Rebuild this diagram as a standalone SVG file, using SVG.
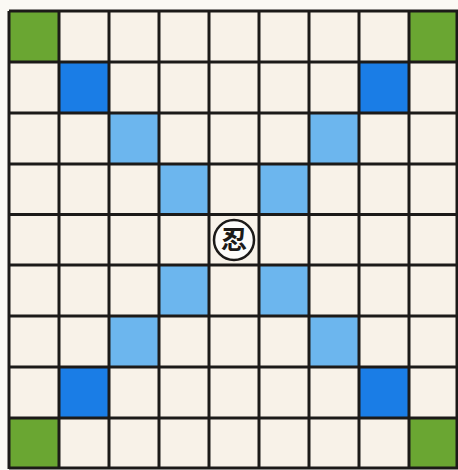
<svg xmlns="http://www.w3.org/2000/svg" width="458" height="470" viewBox="0 0 458 470">
<style>
.c{fill:#f8f2e8}
.g{fill:#6aa632}
.d{fill:#1a7de6}
.l{fill:#6cb6ee}
.ln{stroke:#1c1a18;stroke-width:3;fill:none}
.k{font-family:"Noto Sans CJK JP","Noto Sans CJK SC",sans-serif;font-size:26px;font-weight:bold;fill:#1c1a18;text-anchor:middle}
</style>
<rect x="0" y="0" width="458" height="470" fill="#fbf9f4"/>
<g id="board">
<rect x="9" y="11" width="449" height="458" class="c"/>
<g id="cells">
<rect x="9" y="11" width="50" height="51" class="g"/>
<rect x="409" y="11" width="49" height="51" class="g"/>
<rect x="9" y="418" width="50" height="51" class="g"/>
<rect x="409" y="418" width="49" height="51" class="g"/>
<rect x="59" y="62" width="50" height="51" class="d"/>
<rect x="359" y="62" width="50" height="51" class="d"/>
<rect x="59" y="367" width="50" height="51" class="d"/>
<rect x="359" y="367" width="50" height="51" class="d"/>
<rect x="109" y="113" width="50" height="51" class="l"/>
<rect x="309" y="113" width="50" height="51" class="l"/>
<rect x="159" y="164" width="50" height="51" class="l"/>
<rect x="259" y="164" width="50" height="51" class="l"/>
<rect x="159" y="265" width="50" height="51" class="l"/>
<rect x="259" y="265" width="50" height="51" class="l"/>
<rect x="109" y="316" width="50" height="51" class="l"/>
<rect x="309" y="316" width="50" height="51" class="l"/>
</g>
<path class="ln" d="M9 11V469M59 11V469M109 11V469M159 11V469M209 11V469M259 11V469M309 11V469M359 11V469M409 11V469M457 11V469
M9 11H458M9 62H458M9 113H458M9 164H458M9 214.5H458M9 265H458M9 316H458M9 367H458M9 418H458M9 468H458"/>
</g>
<g id="ninja">
<circle cx="234" cy="240" r="20" fill="#fdfcfa" stroke="#1c1a18" stroke-width="2.5"/>
<text x="234" y="249" class="k">忍</text>
</g>
</svg>
